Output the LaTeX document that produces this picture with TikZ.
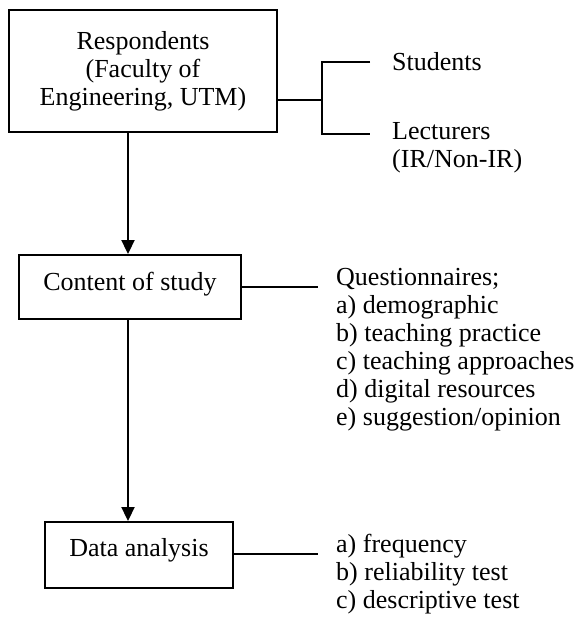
\documentclass[tikz,border=0pt]{standalone}
\usepackage{fontspec}
\setmainfont{Liberation Serif}
\usetikzlibrary{arrows.meta}
\begin{document}
\begin{tikzpicture}[x=1pt,y=-1pt,
  every node/.style={font=\fontsize{26}{28}\selectfont},
  boxnode/.style={draw,line width=1.9pt,align=center,inner sep=0pt},
  listnode/.style={align=left,inner sep=0pt,anchor=west},
  conn/.style={line width=1.9pt},
  arr/.style={line width=1.9pt,-{Triangle[width=13pt,length=14pt]}}]
\useasboundingbox (0,0) rectangle (581,619);
\node[boxnode,minimum width=268pt,minimum height=122pt] (resp) at (143,71) {Respondents\\(Faculty of\\Engineering, UTM)};
\node[boxnode,minimum width=222pt,minimum height=64pt,text depth=12pt] (cont) at (130,287) {Content of study};
\node[boxnode,minimum width=188pt,minimum height=66pt,text depth=15pt] (data) at (139,555) {Data analysis};
\coordinate (spine) at (128,0);
\draw[arr] (resp.south -| spine) -- (cont.north -| spine);
\draw[arr] (cont.south -| spine) -- (data.north -| spine);
% respondents branch
\coordinate (fork) at (322,100);
\coordinate (forktop) at (322,62);
\coordinate (forkbot) at (322,134);
\coordinate (stuend) at (370,62);
\coordinate (lecend) at (370,134);
\draw[conn] (resp.east |- fork) -- (fork);
\draw[conn] (stuend) -- (forktop) -- (forkbot) -- (lecend);
\node[listnode] (stu) at (392,62) {Students};
\node[listnode] (lec) at (392,148) {Lecturers\\(IR/Non-IR)};
% content branch
\coordinate (qend) at (318,287);
\draw[conn] (cont.east |- qend) -- (qend);
\node[listnode] (quest) at (336,350) {Questionnaires;\\a) demographic\\b) teaching practice\\c) teaching approaches\\d) digital resources\\e) suggestion/opinion};
% data branch
\coordinate (dend) at (318,554);
\draw[conn] (data.east |- dend) -- (dend);
\node[listnode] (dlist) at (336,574) {a) frequency\\b) reliability test\\c) descriptive test};
\end{tikzpicture}
\end{document}
